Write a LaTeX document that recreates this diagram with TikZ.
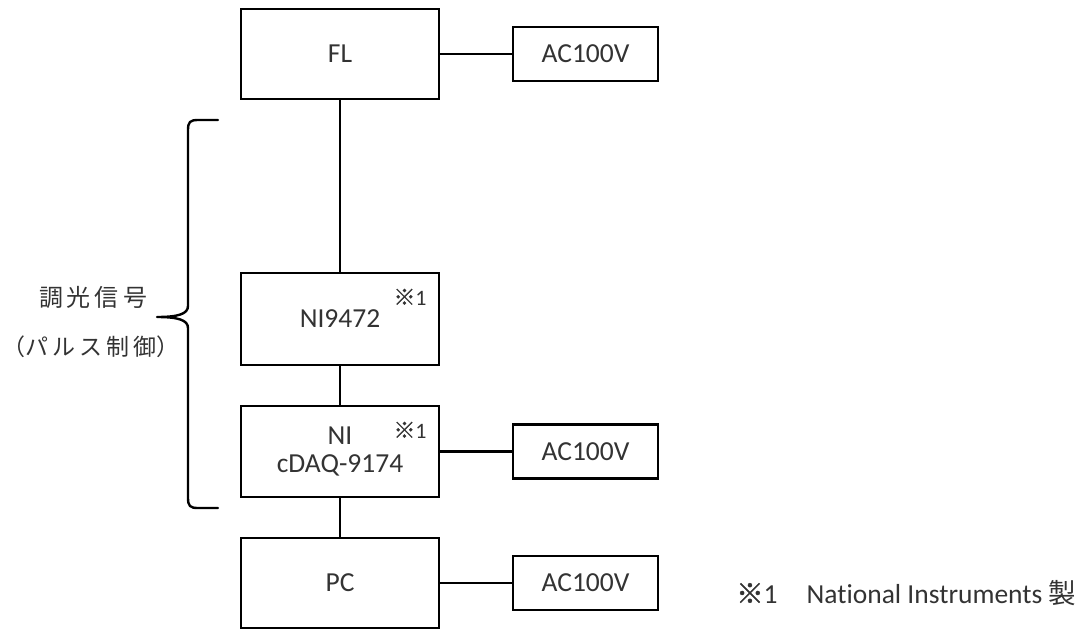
\documentclass[tikz,border=0pt]{standalone}
\usepackage{fontspec}
\setmainfont{Carlito}[Ligatures=NoCommon]
\newfontfamily\jpfont{Noto Sans CJK JP}
\newfontfamily\jpmark[FakeBold=1.2]{Noto Sans CJK JP}
\begin{document}
\begin{tikzpicture}[x=1pt,y=-1pt,
  txt/.style={text=black!80},
  unit/.style={draw=black,line width=2.6pt,minimum width=198pt,minimum height=90pt,
    inner sep=0pt,font=\fontsize{27.5}{32}\selectfont,txt,align=center},
  power/.style={draw=black,line width=2.6pt,minimum width=145pt,minimum height=54pt,
    inner sep=0pt,font=\fontsize{27.5}{32}\selectfont,txt},
  wire/.style={line width=2.6pt,draw=black},
  mark1/.style={font=\fontsize{22}{26}\selectfont,txt,inner sep=0pt}]
\useasboundingbox (0,0) rectangle (1086,629);

% main chain
\node[unit] (fl) at (340,54) {FL};
\node[unit,minimum height=92pt] (ni) at (340,319) {\raisebox{-4pt}{NI9472}};
\node[unit,minimum height=91pt] (daq) at (340,451.5) {NI\\[-4pt]cDAQ-9174};
\node[unit] (pc) at (340,583) {PC};

% power supplies
\node[power] (ac1) at (585.5,54) {AC100V};
\node[power] (ac2) at (585.5,451.5) {AC100V};
\node[power] (ac3) at (585.5,583) {AC100V};

% footnote marks in the NI boxes
\node[mark1] (m1) at (410,297) {{\jpmark ※}1};
\node[mark1] (m2) at (410,430) {{\jpmark ※}1};

% connections
\draw[wire] (fl.south) -- (ni.north);
\draw[wire] (ni.south) -- (daq.north);
\draw[wire] (daq.south) -- (pc.north);
\draw[wire] (fl.east) -- (ac1.west);
\draw[wire] (daq.east) -- (ac2.west);
\draw[wire] (pc.east) -- (ac3.west);

% brace over the dimming-signal section
\draw[line width=2.4pt,line cap=round,line join=round]
  (218,120) -- (198,120) .. controls (190,120) and (188,122) .. (188,130)
  -- (188,306) .. controls (188,314) and (178,317) .. (157,317)
  .. controls (178,317) and (188,320) .. (188,328)
  -- (188,498) .. controls (188,506) and (190,508) .. (198,508) -- (218,508);

\node[txt,font=\jpfont\fontsize{24}{28}\selectfont,inner sep=0pt] (sig) at (93,297) {調\,光\,信\,号};
\node[txt,font=\jpfont\fontsize{23}{28}\selectfont,inner sep=0pt] (pulse) at (91,347) {（パ\,ル\,ス\,制\,御）};

% footnote
\node[txt,font=\fontsize{27.5}{32}\selectfont,inner sep=0pt,anchor=west] (note) at (736,593)
  {{\jpmark ※}1\hspace{29pt}National Instruments {\jpfont 製}};
\end{tikzpicture}
\end{document}
